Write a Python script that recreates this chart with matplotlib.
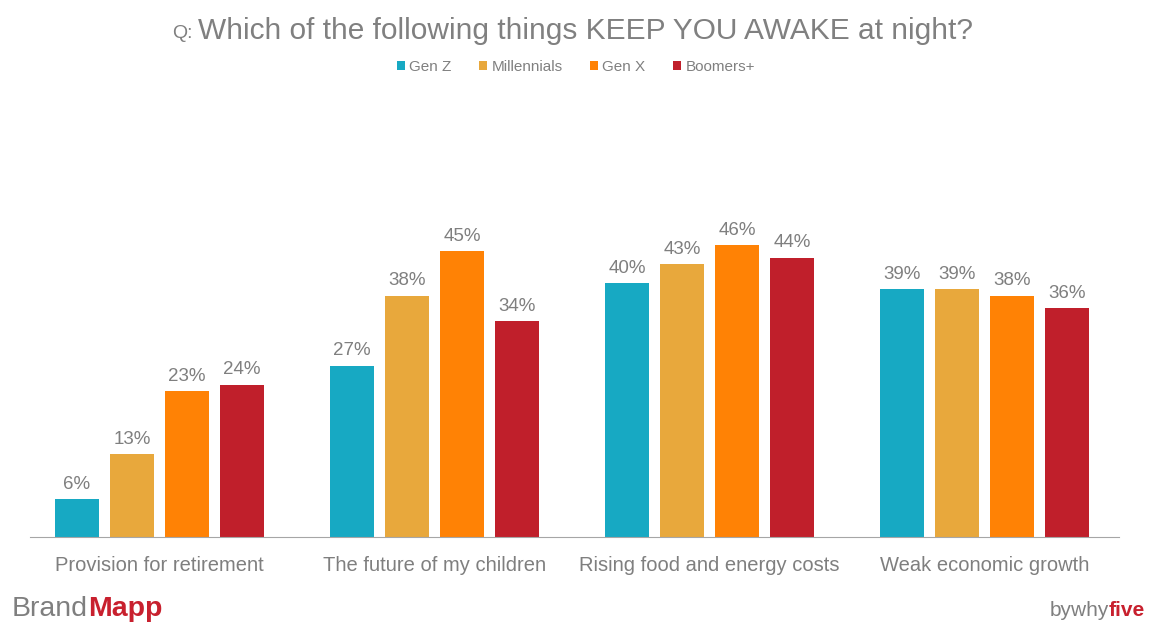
import numpy as np
import matplotlib.pyplot as plt

plt.rcParams['font.family'] = ['Liberation Sans', 'DejaVu Sans']

categories = ['Provision for retirement', 'The future of my children',
              'Rising food and energy costs', 'Weak economic growth']
series = ['Gen Z', 'Millennials', 'Gen X', 'Boomers+']
gen_z = [6, 27, 40, 39]
millennials = [13, 38, 43, 39]
gen_x = [23, 45, 46, 38]
boomers = [24, 34, 44, 36]
colors = ['#17A9C3', '#E8A83C', '#FF8205', '#C01F2B']

W, H = 1152, 626
fig = plt.figure(figsize=(W / 100, H / 100), dpi=100)
ax = fig.add_axes([22 / W, (H - 537) / H, 1100 / W, 317.5 / H])

x = np.arange(len(categories))
width = 0.16
step = 0.2
for i, (name, vals) in enumerate(zip(series, [gen_z, millennials, gen_x, boomers])):
    pos = x + (i - 1.5) * step
    ax.bar(pos, vals, width, color=colors[i], label=name, zorder=2)
    for p, v in zip(pos, vals):
        ax.text(p, v + 1.0, f'{v}%', ha='center', va='bottom',
                fontsize=13.5, color='#7F7F7F')

ax.set_xlim(-0.5, 3.5)
ax.set_ylim(0, 50)
ax.set_yticks([])
ax.set_xticks(x)
ax.set_xticklabels(categories, fontsize=14.5, color='#7F7F7F')
ax.tick_params(axis='x', length=0, pad=14)
for s in ['top', 'left', 'right']:
    ax.spines[s].set_visible(False)
ax.spines['bottom'].set_color('#A6A6A6')
ax.spines['bottom'].set_bounds(-0.47, 3.49)

# title: small "Q:" followed by the question
q = fig.text(172 / W, 1 - 33 / H, 'Q:', ha='left', va='center', fontsize=14, color='#808080')
fig.canvas.draw()
qb = q.get_window_extent()
fig.text((qb.x1 + 5) / W, 1 - 31 / H, 'Which of the following things KEEP YOU AWAKE at night?',
         ha='left', va='center', fontsize=21.5, color='#808080')

ax.legend(loc='center', bbox_to_anchor=(576 / W, (H - 67) / H), bbox_transform=fig.transFigure,
          ncol=4, frameon=False, fontsize=11, handlelength=0.5, handleheight=0.5,
          handletextpad=0.3, columnspacing=1.8, labelcolor='#808080')

# branding
t = fig.text(12 / W, 1 - 609 / H, 'Brand', fontsize=20.5, color='#7F7F7F', va='center')
fig.canvas.draw()
bb = t.get_window_extent()
fig.text(bb.x1 / W, 1 - 609 / H, 'Mapp', fontsize=20.5, color='#C8202E', va='center',
         fontweight='bold')
t2 = fig.text(1145 / W, 1 - 611 / H, 'five', fontsize=15, color='#C8202E', va='center',
              ha='right', fontweight='bold')
fig.canvas.draw()
bb2 = t2.get_window_extent()
fig.text(bb2.x0 / W, 1 - 611 / H, 'bywhy', fontsize=15, color='#7F7F7F', va='center',
         ha='right')

fig.savefig('out.png', dpi=100, facecolor='white')
